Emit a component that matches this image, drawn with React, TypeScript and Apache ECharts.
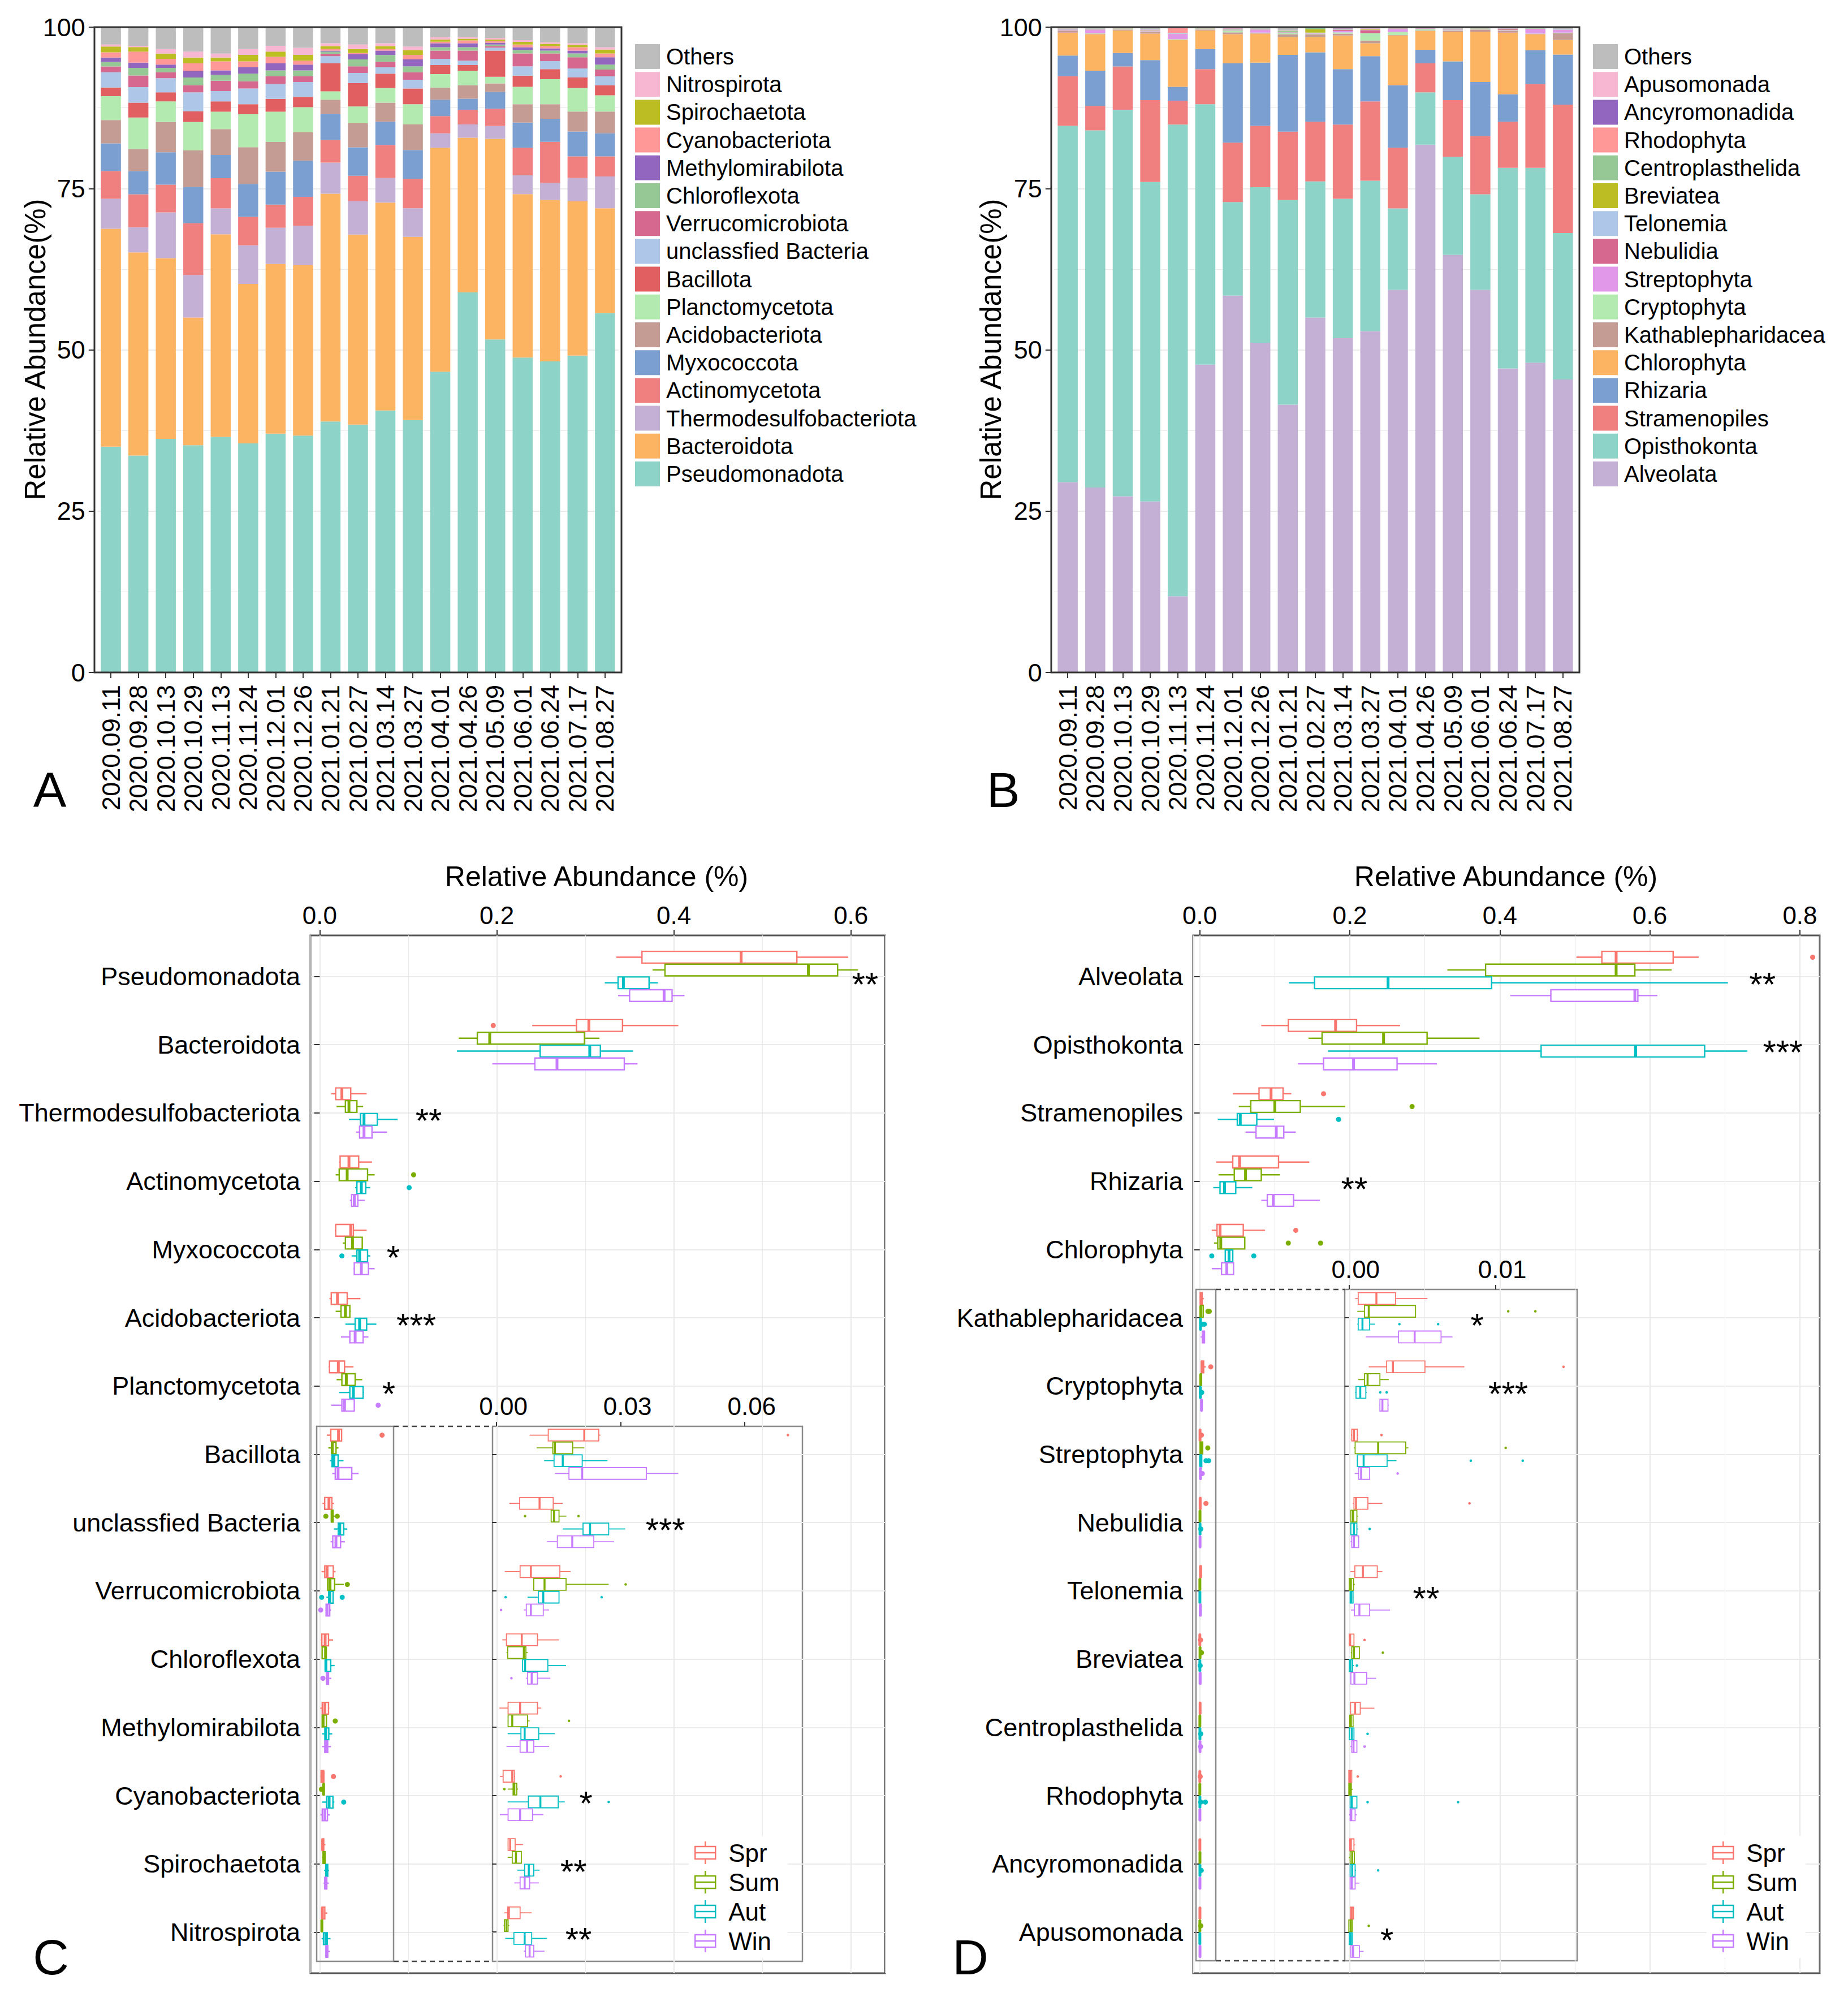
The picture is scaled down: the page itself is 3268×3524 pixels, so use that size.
import React, { useEffect, useRef } from 'react';
import * as echarts from 'echarts';

const FONT = '"Liberation Sans", Arial, Helvetica, sans-serif';

// ---------------- Panel A / B categories ----------------
const DATES = ['2020.09.11', '2020.09.28', '2020.10.13', '2020.10.29', '2020.11.13', '2020.11.24', '2020.12.01', '2020.12.26', '2021.01.21', '2021.02.27', '2021.03.14', '2021.03.27', '2021.04.01', '2021.04.26', '2021.05.09', '2021.06.01', '2021.06.24', '2021.07.17', '2021.08.27'];
const A_TICKS = [0, 25, 50, 75, 100];

// ---------------- Panel A (bacteria, %) bottom -> top ----------------
const A_PSEUDOMONADOTA = [35.0, 33.6, 36.2, 35.2, 36.5, 35.5, 37.0, 36.7, 38.9, 38.4, 40.6, 39.1, 46.6, 58.9, 51.6, 48.8, 48.2, 49.1, 55.7];
const A_BACTEROIDOTA = [33.75, 31.5, 28.0, 19.8, 31.4, 24.7, 26.3, 26.4, 35.3, 29.45, 32.2, 28.4, 34.7, 23.96, 31.08, 25.32, 25.02, 23.9, 16.24];
const A_THERMODESULFOBACTERIOTA = [4.65, 3.9, 7.1, 6.6, 4.0, 6.0, 5.6, 6.1, 4.8, 5.15, 3.82, 4.44, 2.25, 2.07, 2.01, 2.91, 2.64, 3.62, 4.92];
const A_ACTINOMYCETOTA = [4.3, 5.1, 4.3, 8.0, 4.7, 4.4, 3.6, 4.5, 3.5, 3.97, 5.13, 4.56, 2.67, 2.27, 2.67, 4.27, 6.37, 3.36, 3.12];
const A_MYXOCOCCOTA = [4.3, 3.6, 5.0, 5.6, 3.6, 5.1, 5.1, 5.6, 4.0, 4.4, 3.6, 4.45, 2.53, 1.72, 2.6, 3.91, 3.57, 3.85, 3.57];
const A_ACIDOBACTERIOTA = [3.6, 3.4, 4.7, 5.7, 4.0, 5.7, 4.6, 4.4, 2.25, 3.73, 2.95, 3.98, 1.9, 2.08, 1.31, 2.84, 2.25, 3.08, 3.36];
const A_PLANCTOMYCETOTA = [3.7, 4.9, 3.2, 4.4, 2.7, 5.1, 4.7, 3.9, 1.31, 2.6, 2.25, 3.12, 2.08, 2.25, 1.04, 2.71, 3.88, 3.64, 2.53];
const A_BACILLOTA = [1.35, 2.3, 1.4, 1.65, 1.6, 1.55, 2.0, 1.6, 4.34, 3.64, 2.25, 2.45, 1.39, 0.87, 4.06, 1.73, 1.56, 1.66, 1.56];
const A_UNCLASSIFIED = [2.35, 2.4, 2.2, 2.95, 1.6, 2.45, 2.3, 2.3, 1.1, 1.56, 0.97, 1.36, 0.97, 0.69, 0.45, 1.45, 1.25, 1.39, 1.38];
const A_VERRUCOMICROBIOTA = [0.9, 1.8, 0.9, 1.1, 1.6, 1.1, 1.2, 0.9, 0.35, 1.04, 0.87, 1.14, 1.28, 1.56, 0.24, 1.98, 1.18, 1.73, 1.04];
const A_CHLOROFLEXOTA = [0.7, 1.2, 0.7, 1.2, 0.9, 1.2, 0.9, 0.9, 0.35, 1.06, 1.04, 0.94, 0.52, 0.52, 0.24, 0.55, 0.45, 0.59, 0.77];
const A_METHYLOMIRABILOTA = [0.7, 0.8, 0.5, 1.05, 0.7, 1.0, 1.1, 0.9, 0.17, 0.8, 0.69, 1.06, 0.61, 0.61, 0.28, 0.42, 0.35, 0.45, 1.14];
const A_CYANOBACTERIOTA = [0.8, 1.7, 0.9, 1.15, 1.4, 0.9, 1.0, 0.6, 0.23, 0.2, 0.23, 0.7, 0.25, 0.43, 0.24, 0.41, 0.34, 0.52, 0.59];
const A_SPIROCHAETOTA = [0.9, 0.7, 0.8, 0.9, 0.6, 1.0, 0.8, 0.9, 0.46, 0.6, 0.46, 0.7, 0.35, 0.27, 0.25, 0.42, 0.35, 0.34, 0.62];
const A_NITROSPIROTA = [0.3, 0.2, 0.7, 0.9, 0.6, 0.9, 0.9, 1.1, 0.44, 0.7, 0.44, 0.6, 0.35, 0.25, 0.27, 0.27, 0.24, 0.28, 0.35];
const A_OTHERS = [2.7, 2.9, 3.4, 3.8, 4.1, 3.4, 2.9, 3.2, 2.5, 2.7, 2.5, 3.0, 1.55, 1.55, 1.66, 2.01, 2.35, 2.49, 3.11];

const A_NAMES = ['Pseudomonadota', 'Bacteroidota', 'Thermodesulfobacteriota', 'Actinomycetota', 'Myxococcota', 'Acidobacteriota', 'Planctomycetota', 'Bacillota', 'unclassfied Bacteria', 'Verrucomicrobiota', 'Chloroflexota', 'Methylomirabilota', 'Cyanobacteriota', 'Spirochaetota', 'Nitrospirota', 'Others'];
const A_COLORS = ['#8DD3C7', '#FDB462', '#C5B0D5', '#F08080', '#7A9FD0', '#C49C94', '#B3EAB0', '#E15F60', '#AEC7E8', '#D6688F', '#95C895', '#9266BF', '#FF9896', '#BCBD22', '#F7B6D2', '#BDBDBD'];
const A_VALUES = [A_PSEUDOMONADOTA, A_BACTEROIDOTA, A_THERMODESULFOBACTERIOTA, A_ACTINOMYCETOTA, A_MYXOCOCCOTA, A_ACIDOBACTERIOTA, A_PLANCTOMYCETOTA, A_BACILLOTA, A_UNCLASSIFIED, A_VERRUCOMICROBIOTA, A_CHLOROFLEXOTA, A_METHYLOMIRABILOTA, A_CYANOBACTERIOTA, A_SPIROCHAETOTA, A_NITROSPIROTA, A_OTHERS];

// ---------------- Panel B (eukaryotes, %) bottom -> top ----------------
const B_ALVEOLATA = [29.5, 28.65, 27.3, 26.5, 11.8, 47.7, 58.4, 51.1, 41.5, 55.0, 51.8, 52.9, 59.3, 81.8, 64.7, 59.3, 47.1, 48.0, 45.4];
const B_OPISTHOKONTA = [55.2, 55.35, 59.9, 49.5, 73.1, 40.35, 14.5, 24.1, 31.7, 21.1, 21.6, 23.3, 12.6, 8.1, 15.2, 14.8, 31.1, 30.2, 22.7];
const B_STRAMENOPILES = [7.7, 3.8, 6.7, 12.7, 3.7, 5.45, 9.2, 9.5, 10.6, 9.25, 11.5, 12.3, 9.4, 4.5, 8.8, 9.0, 7.15, 13.0, 19.9];
const B_RHIZARIA = [3.2, 5.45, 2.1, 6.2, 2.15, 3.1, 12.3, 9.8, 11.9, 10.75, 8.6, 7.0, 9.7, 2.1, 6.0, 8.4, 4.25, 5.2, 7.75];
const B_CHLOROPHYTA = [3.55, 5.65, 3.5, 4.1, 7.28, 2.9, 4.5, 4.5, 2.75, 2.35, 5.2, 2.0, 7.7, 2.9, 4.6, 7.8, 9.54, 2.5, 2.25];
const B_KATHABLEPHARIDACEA = [0.3, 0.1, 0.1, 0.3, 0.05, 0.1, 0.3, 0.1, 0.45, 0.45, 0.3, 0.43, 0.1, 0.1, 0.1, 0.3, 0.3, 0.05, 1.04];
const B_CRYPTOPHYTA = [0.05, 0.05, 0.05, 0.05, 0.05, 0.05, 0.3, 0.05, 0.2, 0.1, 0.2, 1.11, 0.45, 0.2, 0.1, 0.05, 0.05, 0.05, 0.1];
const B_STREPTOPHYTA = [0.05, 0.5, 0.05, 0.05, 0.8, 0.05, 0.05, 0.4, 0.05, 0.05, 0.2, 0.05, 0.4, 0.05, 0.05, 0.05, 0.05, 0.69, 0.4];
const B_NEBULIDIA = [0.05, 0.05, 0.05, 0.05, 0.05, 0.05, 0.05, 0.05, 0.05, 0.05, 0.2, 0.45, 0.05, 0.05, 0.05, 0.05, 0.1, 0.05, 0.05];
const B_TELONEMIA = [0.05, 0.05, 0.05, 0.05, 0.1, 0.05, 0.05, 0.05, 0.05, 0.05, 0.05, 0.05, 0.05, 0.05, 0.05, 0.05, 0.05, 0.05, 0.05];
const B_BREVIATEA = [0.02, 0.02, 0.02, 0.02, 0.02, 0.02, 0.05, 0.02, 0.05, 0.5, 0.05, 0.05, 0.02, 0.02, 0.02, 0.02, 0.02, 0.02, 0.02];
const B_CENTROPLASTHELIDA = [0.02, 0.02, 0.02, 0.02, 0.02, 0.02, 0.05, 0.02, 0.15, 0.2, 0.05, 0.05, 0.02, 0.02, 0.02, 0.02, 0.02, 0.02, 0.02];
const B_RHODOPHYTA = [0.02, 0.02, 0.02, 0.02, 0.7, 0.02, 0.05, 0.02, 0.02, 0.02, 0.02, 0.05, 0.02, 0.02, 0.02, 0.02, 0.02, 0.02, 0.02];
const B_ANCYROMONADIDA = [0.02, 0.02, 0.02, 0.02, 0.02, 0.02, 0.02, 0.02, 0.02, 0.02, 0.1, 0.05, 0.02, 0.02, 0.02, 0.02, 0.02, 0.02, 0.02];
const B_APUSOMONADA = [0.02, 0.02, 0.02, 0.02, 0.1, 0.02, 0.02, 0.02, 0.02, 0.02, 0.02, 0.05, 0.02, 0.02, 0.02, 0.02, 0.02, 0.02, 0.02];
const B_OTHERS = [0.25, 0.25, 0.1, 0.4, 0.06, 0.1, 0.16, 0.25, 0.49, 0.09, 0.11, 0.16, 0.15, 0.05, 0.25, 0.1, 0.21, 0.11, 0.26];

const B_NAMES = ['Alveolata', 'Opisthokonta', 'Stramenopiles', 'Rhizaria', 'Chlorophyta', 'Kathablepharidacea', 'Cryptophyta', 'Streptophyta', 'Nebulidia', 'Telonemia', 'Breviatea', 'Centroplasthelida', 'Rhodophyta', 'Ancyromonadida', 'Apusomonada', 'Others'];
const B_COLORS = ['#C5B0D5', '#8DD3C7', '#F08080', '#7A9FD0', '#FDB462', '#C49C94', '#B3EAB0', '#E298E8', '#D6688F', '#AEC7E8', '#BCBD22', '#95C895', '#FF9896', '#9266BF', '#F7B6D2', '#BDBDBD'];
const B_VALUES = [B_ALVEOLATA, B_OPISTHOKONTA, B_STRAMENOPILES, B_RHIZARIA, B_CHLOROPHYTA, B_KATHABLEPHARIDACEA, B_CRYPTOPHYTA, B_STREPTOPHYTA, B_NEBULIDIA, B_TELONEMIA, B_BREVIATEA, B_CENTROPLASTHELIDA, B_RHODOPHYTA, B_ANCYROMONADIDA, B_APUSOMONADA, B_OTHERS];

// ---------------- Boxplots ----------------
const SEASONS = ['Spr', 'Sum', 'Aut', 'Win'];
const SEASON_COLORS = ['#F8766D', '#7CAE00', '#00BFC4', '#C77CFF'];

// Panel C rows (top -> bottom); each row: [min, q1, median, q3, max]
const C_ROWS = ['Pseudomonadota', 'Bacteroidota', 'Thermodesulfobacteriota', 'Actinomycetota', 'Myxococcota', 'Acidobacteriota', 'Planctomycetota', 'Bacillota', 'unclassfied Bacteria', 'Verrucomicrobiota', 'Chloroflexota', 'Methylomirabilota', 'Cyanobacteriota', 'Spirochaetota', 'Nitrospirota'];
const C_MAIN_TICKS = [0, 0.2, 0.4, 0.6];
const C_INSET_TICKS = [0, 0.03, 0.06];
const C_SPR = [
  [0.335, 0.364, 0.476, 0.539, 0.597], [0.240, 0.290, 0.304, 0.342, 0.405], [0.013, 0.018, 0.025, 0.035, 0.053],
  [0.022, 0.023, 0.033, 0.044, 0.059], [0.017, 0.018, 0.035, 0.038, 0.053], [0.011, 0.013, 0.020, 0.031, 0.046],
  [0.010, 0.011, 0.021, 0.028, 0.038], [0.0080, 0.0125, 0.0212, 0.0247, 0.0251], [0.0031, 0.0056, 0.0104, 0.0137, 0.0160],
  [0.0020, 0.0057, 0.0083, 0.0153, 0.0179], [0.0014, 0.0024, 0.0061, 0.0099, 0.0151], [0.0007, 0.0028, 0.0057, 0.0099, 0.0108],
  [0.0008, 0.0016, 0.0038, 0.0043, 0.0045], [0.0027, 0.0028, 0.0033, 0.0045, 0.0064], [0.0019, 0.0027, 0.0030, 0.0057, 0.0085],
];
const C_SUM = [
  [0.376, 0.390, 0.552, 0.585, 0.608], [0.157, 0.178, 0.192, 0.299, 0.316], [0.019, 0.029, 0.033, 0.042, 0.049],
  [0.018, 0.022, 0.031, 0.054, 0.062], [0.026, 0.029, 0.037, 0.048, 0.048], [0.018, 0.024, 0.029, 0.034, 0.035],
  [0.019, 0.025, 0.030, 0.040, 0.048], [0.0097, 0.0136, 0.0141, 0.0184, 0.0212], [0.0132, 0.0132, 0.0139, 0.0151, 0.0169],
  [0.0090, 0.0090, 0.0116, 0.0168, 0.0271], [0.0024, 0.0027, 0.0066, 0.0071, 0.0075], [0.0027, 0.0028, 0.0038, 0.0075, 0.0080],
  [0.0027, 0.0040, 0.0043, 0.0049, 0.0052], [0.0027, 0.0038, 0.0047, 0.0060, 0.0061], [0.0017, 0.0019, 0.0024, 0.0028, 0.0031],
];
const C_AUT = [
  [0.322, 0.337, 0.343, 0.372, 0.382], [0.155, 0.249, 0.305, 0.317, 0.354], [0.033, 0.046, 0.050, 0.065, 0.088],
  [0.040, 0.042, 0.047, 0.052, 0.057], [0.036, 0.042, 0.045, 0.054, 0.057], [0.029, 0.040, 0.045, 0.053, 0.064],
  [0.022, 0.034, 0.038, 0.049, 0.050], [0.0115, 0.0139, 0.0160, 0.0207, 0.0268], [0.0160, 0.0209, 0.0226, 0.0271, 0.0311],
  [0.0075, 0.0101, 0.0113, 0.0151, 0.0151], [0.0063, 0.0063, 0.0069, 0.0124, 0.0168], [0.0027, 0.0059, 0.0068, 0.0102, 0.0141],
  [0.0027, 0.0077, 0.0106, 0.0149, 0.0165], [0.0050, 0.0068, 0.0078, 0.0090, 0.0104], [0.0021, 0.0042, 0.0068, 0.0085, 0.0122],
];
const C_WIN = [
  [0.337, 0.350, 0.389, 0.398, 0.412], [0.195, 0.243, 0.268, 0.344, 0.359], [0.041, 0.045, 0.050, 0.059, 0.076],
  [0.034, 0.036, 0.039, 0.043, 0.051], [0.038, 0.039, 0.047, 0.055, 0.062], [0.024, 0.034, 0.040, 0.049, 0.055],
  [0.013, 0.025, 0.028, 0.039, 0.039], [0.0141, 0.0175, 0.0207, 0.0362, 0.0439], [0.0122, 0.0147, 0.0183, 0.0235, 0.0284],
  [0.0066, 0.0072, 0.0083, 0.0113, 0.0127], [0.0071, 0.0075, 0.0085, 0.0099, 0.0130], [0.0024, 0.0057, 0.0074, 0.0090, 0.0127],
  [0.0008, 0.0028, 0.0057, 0.0087, 0.0113], [0.0043, 0.0057, 0.0068, 0.0080, 0.0102], [0.0066, 0.0070, 0.0080, 0.0090, 0.0116],
];
// outliers: [row, value]
const C_SPR_OUT = [[1, 0.196], [7, 0.0704], [12, 0.0155]];
const C_SUM_OUT = [[3, 0.106], [8, 0.0069], [8, 0.0198], [9, 0.0312], [11, 0.0175], [12, 0.0019]];
const C_AUT_OUT = [[3, 0.101], [4, 0.025], [9, 0.0022], [9, 0.0254], [12, 0.0271]];
const C_WIN_OUT = [[6, 0.066], [9, 0.0011], [10, 0.0036]];
// significance: [row, label anchor value, text]
const C_SIG_MAIN = [[0, 0.616, '**'], [2, 0.123, '**'], [4, 0.083, '*'], [5, 0.109, '***'], [6, 0.078, '*']];
const C_SIG_INSET = [[8, 0.0408, '***'], [12, 0.0216, '*'], [13, 0.0186, '**'], [14, 0.0198, '**']];

// Panel D
const D_ROWS = ['Alveolata', 'Opisthokonta', 'Stramenopiles', 'Rhizaria', 'Chlorophyta', 'Kathablepharidacea', 'Cryptophyta', 'Streptophyta', 'Nebulidia', 'Telonemia', 'Breviatea', 'Centroplasthelida', 'Rhodophyta', 'Ancyromonadida', 'Apusomonada'];
const D_MAIN_TICKS = [0, 0.2, 0.4, 0.6, 0.8];
const D_INSET_TICKS = [0, 0.01];
const D_SPR = [
  [0.502, 0.536, 0.555, 0.631, 0.665], [0.082, 0.118, 0.181, 0.209, 0.267], [0.044, 0.079, 0.095, 0.111, 0.122],
  [0.022, 0.044, 0.053, 0.105, 0.146], [0.016, 0.023, 0.027, 0.058, 0.087], [0.00043, 0.00064, 0.00188, 0.00319, 0.00536],
  [0.00136, 0.00258, 0.00301, 0.00519, 0.00788], [0.00014, 0.0002, 0.00035, 0.00058, 0.00064], [0.00026, 0.00035, 0.00049, 0.0013, 0.00229],
  [0.0001, 0.00041, 0.00096, 0.00194, 0.00229], [0, 0.00003, 0.00009, 0.00035, 0.00035], [0.0001, 0.00012, 0.00043, 0.00078, 0.00174],
  [0, 0, 0.00009, 0.0002, 0.0002], [0.00003, 0.00006, 0.00014, 0.00035, 0.00043], [0.0001, 0.0001, 0.0002, 0.00032, 0.00032],
];
const D_SUM = [
  [0.330, 0.381, 0.555, 0.580, 0.629], [0.145, 0.163, 0.245, 0.303, 0.373], [0.052, 0.068, 0.100, 0.134, 0.194],
  [0.025, 0.046, 0.061, 0.082, 0.107], [0.019, 0.024, 0.028, 0.060, 0.060], [0.00058, 0.00107, 0.00136, 0.00455, 0.00455],
  [0.00064, 0.00107, 0.00128, 0.00212, 0.00272], [0.00035, 0.00043, 0.002, 0.00388, 0.00406], [0.0001, 0.00014, 0.00029, 0.00055, 0.00064],
  [0, 0.00003, 0.00014, 0.00032, 0.00041], [0.00014, 0.0002, 0.00035, 0.00072, 0.00072], [0.00003, 0.00006, 0.00014, 0.00029, 0.00032],
  [0, 0, 0.00009, 0.00017, 0.00026], [0, 0.00009, 0.00023, 0.00038, 0.00041], [0, 0, 0.00012, 0.00023, 0.00026],
];
const D_AUT = [
  [0.119, 0.153, 0.251, 0.389, 0.704], [0.171, 0.455, 0.581, 0.673, 0.730], [0.024, 0.050, 0.054, 0.076, 0.099],
  [0.018, 0.027, 0.033, 0.048, 0.070], [0.034, 0.034, 0.039, 0.044, 0.044], [0.00058, 0.00064, 0.00093, 0.00142, 0.0018],
  [0.00043, 0.00049, 0.00078, 0.00116, 0.00122], [0.00055, 0.00058, 0.00101, 0.00261, 0.00325], [0.0001, 0.00014, 0.00035, 0.00055, 0.00064],
  [0.00006, 0.00009, 0.00017, 0.00029, 0.00032], [0.00003, 0.00003, 0.00012, 0.00026, 0.00035], [0.00003, 0.00003, 0.0002, 0.00035, 0.00035],
  [0.00006, 0.00009, 0.0002, 0.00055, 0.00055], [0.00006, 0.00009, 0.00023, 0.00043, 0.00049], [0, 0.00003, 0.00012, 0.00023, 0.00026],
];
const D_WIN = [
  [0.414, 0.468, 0.580, 0.584, 0.610], [0.131, 0.165, 0.205, 0.263, 0.316], [0.061, 0.075, 0.102, 0.112, 0.128],
  [0.082, 0.090, 0.098, 0.125, 0.160], [0.016, 0.029, 0.036, 0.045, 0.045], [0.00116, 0.00339, 0.00449, 0.00629, 0.00707],
  [0.00209, 0.00212, 0.00229, 0.00267, 0.00272], [0.0004, 0.00067, 0.00084, 0.00142, 0.00142], [0.00012, 0.0002, 0.00035, 0.00067, 0.0007],
  [0.00014, 0.00038, 0.00072, 0.00142, 0.00281], [0.0001, 0.00014, 0.00038, 0.00122, 0.00186], [0.0001, 0.0002, 0.00032, 0.00055, 0.00055],
  [0.00003, 0.00009, 0.00017, 0.00043, 0.00055], [0.00006, 0.00009, 0.0002, 0.00043, 0.00072], [0.0001, 0.00014, 0.00029, 0.00072, 0.00101],
];
const D_SPR_OUT = [[0, 0.817], [2, 0.165], [4, 0.128], [6, 0.01464], [7, 0.00223], [8, 0.00823], [10, 0.00107], [12, 0.00061]];
const D_SUM_OUT = [[2, 0.283], [4, 0.118], [4, 0.161], [5, 0.01087], [5, 0.01272], [7, 0.0107], [10, 0.00232], [14, 0.00136]];
const D_AUT_OUT = [[2, 0.185], [4, 0.016], [4, 0.072], [5, 0.00345], [5, 0.00609], [6, 0.00214], [6, 0.00258], [7, 0.00832], [7, 0.01186], [8, 0.00142], [10, 0.00055], [11, 0.00128], [12, 0.00128], [12, 0.00745], [13, 0.002]];
const D_WIN_OUT = [[7, 0.00333], [11, 0.00107]];
const D_SIG_MAIN = [[0, 0.750, '**'], [1, 0.777, '***'], [3, 0.206, '**']];
const D_SIG_INSET = [[5, 0.00875, '*'], [6, 0.01087, '***'], [9, 0.00527, '**'], [14, 0.0026, '*']];

// ---------------- Layout (pixels) ----------------
const L = {
  A: { x: 167, y: 48, w: 932, h: 1141 },
  B: { x: 1859, y: 48, w: 934, h: 1141 },
  C: { x: 549, y: 1654, w: 1016, h: 1835, xMin: -0.0105, xMax: 0.6385, yMin: -0.6, yMax: 14.6 },
  CI: { x: 871, y: 2522, w: 548, h: 946, xMin: -0.00096, xMax: 0.0739, yMin: 6.59, yMax: 14.43, firstRow: 7 },
  CS: { x: 560, y: 2522, w: 136, h: 946 },
  D: { x: 2110, y: 1654, w: 1108, h: 1835, xMin: -0.0088, xMax: 0.8264, yMin: -0.6, yMax: 14.6 },
  DI: { x: 2378, y: 2280, w: 411, h: 1187, xMin: -0.00028, xMax: 0.01557, yMin: 4.586, yMax: 14.418, firstRow: 5 },
  DS: { x: 2115, y: 2280, w: 35, h: 1187 },
};
const DODGE = [-0.281, -0.094, 0.094, 0.281];
const BOX_H = 0.172;
const GRID_COL = '#ebebeb';
const TICK = { color: '#333', width: 2 };
const STAR_FS = 60;

function bandGrid(b: { x: number; y: number; w: number; h: number }) {
  const band = b.w / 19.2;
  return { left: b.x + band * 0.1, top: b.y, width: band * 19, height: b.h };
}

function boxSeries(name: string, color: string, offset: number, rows: number[][], xi: number, yi: number, lw: number, mlw: number, firstRow: number) {
  const data = rows.map((r, i) => [i, r[0], r[1], r[2], r[3], r[4]]).filter((d) => d[0] >= firstRow);
  return {
    type: 'custom', name, xAxisIndex: xi, yAxisIndex: yi, data, z: 3,
    encode: { x: [1, 2, 3, 4, 5], y: 0 },
    itemStyle: { color },
    renderItem: (params: any, api: any) => {
      const y = api.value(0) + offset;
      const c = (v: number) => api.coord([v, y]);
      const p0 = c(api.value(1)), p1 = c(api.value(2)), p2 = c(api.value(3)), p3 = c(api.value(4)), p4 = c(api.value(5));
      const h = Math.abs(api.size([0, BOX_H])[1]);
      const yc = p0[1];
      return {
        type: 'group',
        children: [
          { type: 'line', shape: { x1: p0[0], y1: yc, x2: p1[0], y2: yc }, style: { stroke: color, lineWidth: lw } },
          { type: 'line', shape: { x1: p3[0], y1: yc, x2: p4[0], y2: yc }, style: { stroke: color, lineWidth: lw } },
          { type: 'rect', shape: { x: p1[0], y: yc - h / 2, width: Math.max(p3[0] - p1[0], 0.3), height: h }, style: { fill: '#fff', stroke: color, lineWidth: lw } },
          { type: 'line', shape: { x1: p2[0], y1: yc - h / 2, x2: p2[0], y2: yc + h / 2 }, style: { stroke: color, lineWidth: mlw } },
        ],
      };
    },
  };
}

function outlierSeries(name: string, color: string, offset: number, outs: number[][], xi: number, yi: number, size: number, firstRow: number) {
  return {
    type: 'scatter', name, xAxisIndex: xi, yAxisIndex: yi, z: 4, symbolSize: size,
    itemStyle: { color, opacity: 1 },
    data: outs.filter((o) => o[0] >= firstRow).map((o) => [o[1], o[0] + offset]),
  };
}

function starSeries(sig: any[][], xi: number, yi: number) {
  return {
    type: 'custom', xAxisIndex: xi, yAxisIndex: yi, z: 6, silent: true,
    data: sig.map((s) => [s[1], s[0]]),
    encode: { x: 0, y: 1 },
    renderItem: (params: any, api: any) => {
      const p = api.coord([api.value(0), api.value(1)]);
      return {
        type: 'text', x: p[0], y: p[1] + STAR_FS * 0.23,
        style: { text: sig[params.dataIndex][2], fontSize: STAR_FS, fontFamily: FONT, fill: '#000', align: 'center', verticalAlign: 'middle' },
      };
    },
  };
}

function rowAxis(gi: number, b: any, names: string[] | null, ticks: number[]) {
  return {
    gridIndex: gi, type: 'value', min: b.yMin, max: b.yMax, inverse: true,
    splitNumber: Math.round(b.yMax - b.yMin),
    axisLine: { show: false },
    axisTick: { show: true, length: names ? 10 : 8, lineStyle: TICK, customValues: ticks },
    axisLabel: names
      ? {
          show: true, fontSize: 45, color: '#000', margin: 18, customValues: ticks,
          formatter: (v: number) => {
            const i = Math.round(v);
            return Math.abs(v - i) < 1e-6 && i >= 0 && i < names.length ? names[i] : '';
          },
        }
      : { show: false },
    splitLine: { show: !!names, lineStyle: { color: GRID_COL, width: 2.2 } },
  };
}

function valueTopAxis(gi: number, b: any, ticks: number[], split: number, digits: number, inset: boolean) {
  return {
    gridIndex: gi, type: 'value', position: 'top', min: b.xMin, max: b.xMax, splitNumber: split,
    axisLine: { show: false },
    axisTick: { show: true, length: inset ? 8 : 10, lineStyle: TICK, customValues: ticks },
    axisLabel: {
      fontSize: 44, color: '#000', margin: 14, customValues: ticks,
      formatter: (v: number) => v.toFixed(digits),
      padding: inset ? [0, 0, 0, 24] : 0,
    },
    splitLine: { show: !inset, lineStyle: { color: GRID_COL, width: 2.2 } },
  };
}

function minorAxis(gi: number, b: any, split: number) {
  return {
    gridIndex: gi, type: 'value', position: 'bottom', min: b.xMin, max: b.xMax, splitNumber: split,
    axisLine: { show: false }, axisTick: { show: false }, axisLabel: { show: false },
    splitLine: { show: true, lineStyle: { color: GRID_COL, width: 1.2 } },
  };
}

function range(a: number, b: number) {
  const out: number[] = [];
  for (let i = a; i <= b; i++) out.push(i);
  return out;
}

function buildOption() {
  const series: any[] = [];
  A_NAMES.forEach((n, i) => series.push({ type: 'bar', name: n, stack: 'A', xAxisIndex: 0, yAxisIndex: 0, data: A_VALUES[i], barWidth: '73%', itemStyle: { color: A_COLORS[i] }, emphasis: { disabled: true } }));
  B_NAMES.forEach((n, i) => series.push({ type: 'bar', name: n, stack: 'B', xAxisIndex: 1, yAxisIndex: 1, data: B_VALUES[i], barWidth: '73%', itemStyle: { color: B_COLORS[i] }, emphasis: { disabled: true } }));

  const C_SETS = [C_SPR, C_SUM, C_AUT, C_WIN];
  const C_OUTS = [C_SPR_OUT, C_SUM_OUT, C_AUT_OUT, C_WIN_OUT];
  const D_SETS = [D_SPR, D_SUM, D_AUT, D_WIN];
  const D_OUTS = [D_SPR_OUT, D_SUM_OUT, D_AUT_OUT, D_WIN_OUT];

  // x axis indices: 2 C minor, 3 C main, 4 C inset, 5 D minor, 6 D main, 7 D inset
  // y axis indices: 2 C main, 3 C inset, 4 D main, 5 D inset
  SEASONS.forEach((s, k) => {
    series.push(boxSeries(s, SEASON_COLORS[k], DODGE[k], C_SETS[k], 3, 2, 2.4, 5, 0));
    series.push(boxSeries(s, SEASON_COLORS[k], DODGE[k], C_SETS[k], 4, 3, 1.8, 3.5, L.CI.firstRow));
    series.push(boxSeries(s, SEASON_COLORS[k], DODGE[k], D_SETS[k], 6, 4, 2.4, 5, 0));
    series.push(boxSeries(s, SEASON_COLORS[k], DODGE[k], D_SETS[k], 7, 5, 1.8, 3.5, L.DI.firstRow));
  });
  SEASONS.forEach((s, k) => {
    series.push(outlierSeries(s, SEASON_COLORS[k], DODGE[k], C_OUTS[k], 3, 2, 9, 0));
    series.push(outlierSeries(s, SEASON_COLORS[k], DODGE[k], C_OUTS[k], 4, 3, 4.5, L.CI.firstRow));
    series.push(outlierSeries(s, SEASON_COLORS[k], DODGE[k], D_OUTS[k], 6, 4, 9, 0));
    series.push(outlierSeries(s, SEASON_COLORS[k], DODGE[k], D_OUTS[k], 7, 5, 4.5, L.DI.firstRow));
  });
  series.push(starSeries(C_SIG_MAIN, 3, 2));
  series.push(starSeries(C_SIG_INSET, 4, 3));
  series.push(starSeries(D_SIG_MAIN, 6, 4));
  series.push(starSeries(D_SIG_INSET, 7, 5));

  const barX = (gi: number) => ({
    gridIndex: gi, type: 'category', data: DATES,
    axisLine: { show: false },
    axisTick: { show: true, alignWithLabel: true, length: 10, lineStyle: TICK },
    axisLabel: { rotate: 90, fontSize: 45, color: '#000', margin: 22, interval: 0 },
    splitLine: { show: false },
  });
  const barY = (gi: number) => ({
    gridIndex: gi, type: 'value', min: A_TICKS[0], max: A_TICKS[A_TICKS.length - 1], interval: 25, offset: 5,
    axisLine: { show: false },
    axisTick: { show: true, length: 10, lineStyle: TICK },
    axisLabel: { fontSize: 45, color: '#000', margin: 16 },
    splitLine: { show: true, lineStyle: { color: GRID_COL, width: 2.2 } },
    minorTick: { show: false, splitNumber: 2 },
    minorSplitLine: { show: true, lineStyle: { color: GRID_COL, width: 1.2 } },
  });

  const boxGrid = (b: any, inset: boolean) => ({
    left: b.x, top: b.y, width: b.w, height: b.h, show: true,
    borderColor: inset ? '#8a8a8a' : '#555', borderWidth: inset ? 2.5 : 3, backgroundColor: 'transparent',
  });

  const legendKey = 'path://M19,0V9M1,9H37V31H1ZM1,20H37M19,31V40';
  const seasonLegend = (left: number) => ({
    orient: 'vertical', left, top: 3246, padding: [8, 14, 8, 10], backgroundColor: '#fff',
    itemWidth: 38, itemHeight: 40, itemGap: 8, icon: legendKey, selectedMode: false,
    textStyle: { fontSize: 44, color: '#000', padding: [0, 0, 0, 17] },
    data: SEASONS.map((s, k) => ({
      name: s, icon: legendKey,
      itemStyle: { color: '#fff', borderColor: SEASON_COLORS[k], borderWidth: 2.5, opacity: 1 },
    })),
  });
  const barLegend = (left: number, names: string[]) => ({
    orient: 'vertical', left, top: 78, padding: 0, itemWidth: 44, itemHeight: 44, itemGap: 5.2, icon: 'rect', selectedMode: false,
    textStyle: { fontSize: 40, color: '#000', padding: [0, 0, 0, 6] },
    data: names.slice().reverse(),
  });

  const txt = (text: string, x: number, y: number, fs: number, rot = 0) => ({
    type: 'text', x, y, rotation: rot, silent: true, z: 50,
    style: { text, fontSize: fs, fontFamily: FONT, fill: '#000', align: 'center', verticalAlign: 'middle' },
  });
  const border = (b: any, color: string, w: number) => ({
    type: 'rect', silent: true, z: 40, shape: { x: b.x, y: b.y, width: b.w, height: b.h },
    style: { fill: 'none', stroke: color, lineWidth: w },
  });
  const dash = (x1: number, y1: number, x2: number, y2: number) => ({
    type: 'line', silent: true, z: 40, shape: { x1, y1, x2, y2 },
    style: { stroke: '#444', lineWidth: 2.5, lineDash: [9, 7] },
  });

  return {
    animation: false,
    backgroundColor: '#fff',
    textStyle: { fontFamily: FONT },
    grid: [bandGrid(L.A), bandGrid(L.B), boxGrid(L.C, false), boxGrid(L.CI, true), boxGrid(L.D, false), boxGrid(L.DI, true)],
    xAxis: [
      barX(0), barX(1),
      minorAxis(2, L.C, 6), valueTopAxis(2, L.C, C_MAIN_TICKS, 3, 1, false), valueTopAxis(3, L.CI, C_INSET_TICKS, 2, 2, true),
      minorAxis(4, L.D, 8), valueTopAxis(4, L.D, D_MAIN_TICKS, 4, 1, false), valueTopAxis(5, L.DI, D_INSET_TICKS, 2, 2, true),
    ],
    yAxis: [
      barY(0), barY(1),
      rowAxis(2, L.C, C_ROWS, range(0, C_ROWS.length - 1)),
      rowAxis(3, L.CI, null, range(L.CI.firstRow, C_ROWS.length - 1)),
      rowAxis(4, L.D, D_ROWS, range(0, D_ROWS.length - 1)),
      rowAxis(5, L.DI, null, range(L.DI.firstRow, D_ROWS.length - 1)),
    ],
    legend: [barLegend(1123, A_NAMES), barLegend(2817, B_NAMES), seasonLegend(1218), seasonLegend(3018)],
    series,
    graphic: {
      elements: [
        border(L.A, '#333', 3), border(L.B, '#333', 3),
        border(L.CS, '#8a8a8a', 2.5), border(L.DS, '#8a8a8a', 2.5),
        dash(L.CS.x + L.CS.w, L.CS.y, L.CI.x, L.CI.y), dash(L.CS.x + L.CS.w, L.CS.y + L.CS.h, L.CI.x, L.CI.y + L.CI.h),
        dash(L.DS.x + L.DS.w, L.DS.y, L.DI.x, L.DI.y), dash(L.DS.x + L.DS.w, L.DS.y + L.DS.h, L.DI.x, L.DI.y + L.DI.h),
        txt('Relative Abundance(%)', 62, 618, 51, Math.PI / 2),
        txt('Relative Abundance(%)', 1752, 618, 51, Math.PI / 2),
        txt('Relative Abundance (%)', 1055, 1550, 50),
        txt('Relative Abundance (%)', 2663, 1550, 50),
        txt('A', 88, 1396, 88), txt('B', 1774, 1396, 88), txt('C', 90, 3460, 88), txt('D', 1716, 3460, 88),
      ],
    },
  };
}

export default function App() {
  const ref = useRef<HTMLDivElement>(null);
  useEffect(() => {
    if (!ref.current) return;
    const chart = echarts.init(ref.current, null, { renderer: 'svg' });
    chart.setOption(buildOption() as any);
    return () => chart.dispose();
  }, []);
  return <div ref={ref} style={{ position: 'absolute', left: 0, top: 0, width: 3268, height: 3524, background: '#fff' }} />;
}
